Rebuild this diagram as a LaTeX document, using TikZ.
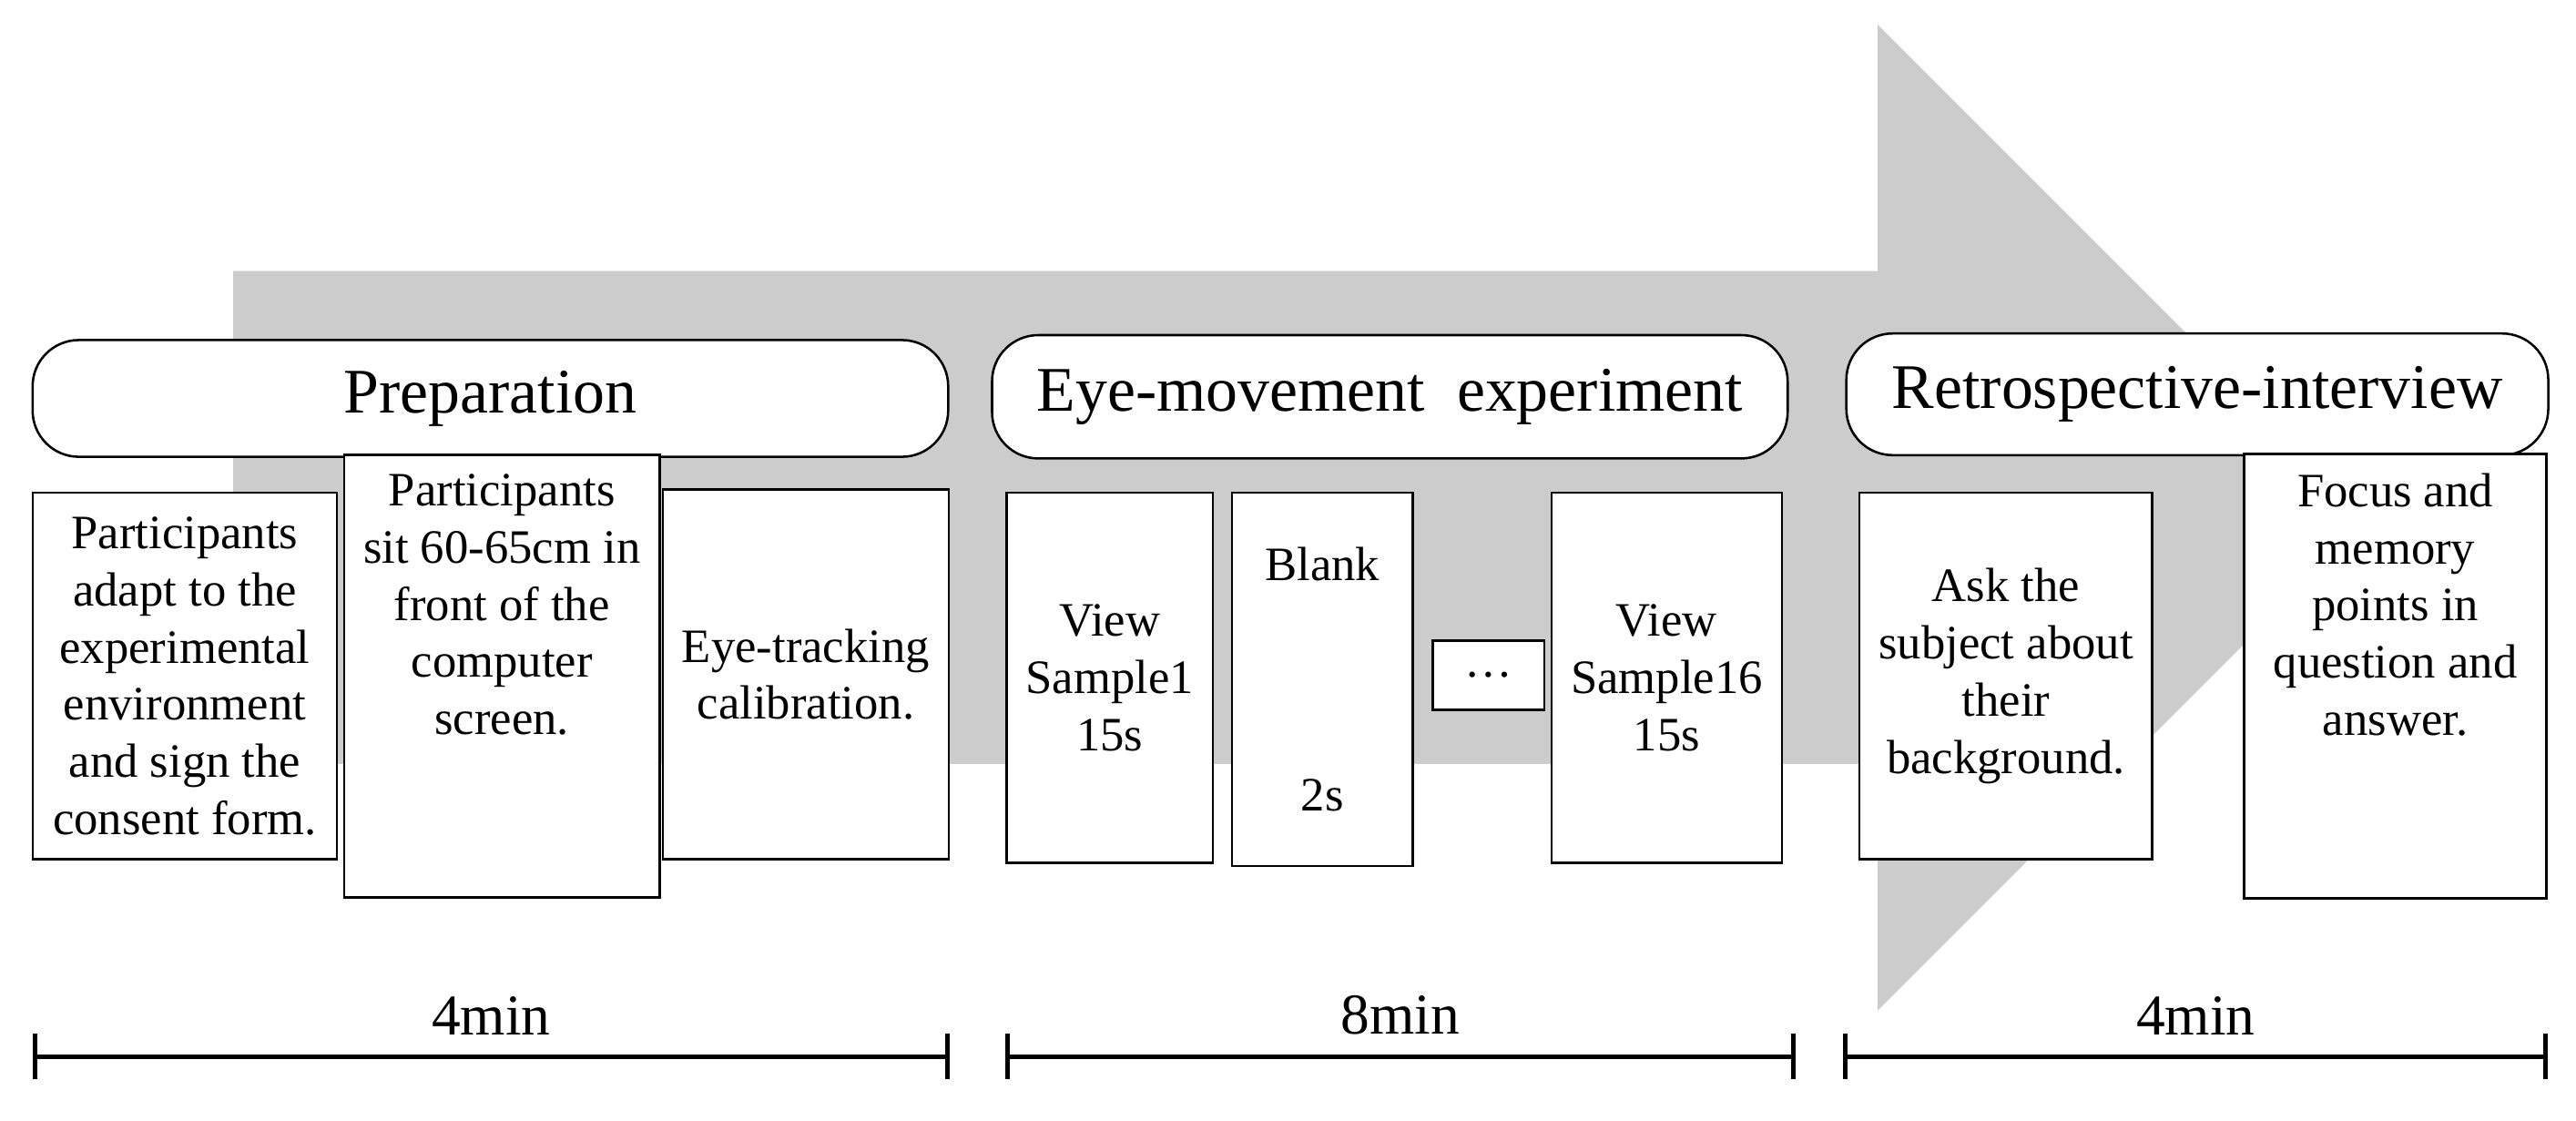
\documentclass[tikz,border=0pt]{standalone}
\usepackage{fontspec}
\setmainfont{Liberation Serif}
\usetikzlibrary{arrows.meta}

\begin{document}
\begin{tikzpicture}[x=0.01cm,y=-0.01cm,
  phase/.style={draw,rounded corners=8pt,fill=white,font=\fontsize{11}{13}\selectfont},
  task/.style={draw,fill=white,align=center,font=\fontsize{8.3}{9.9}\selectfont},
  span/.style={thick,{|[width=8pt]}-{|[width=8pt]}}]
\useasboundingbox (0,0) rectangle (1568,682);

% Background arrow
\fill[gray!40] (142,165) -- (1143,165) -- (1143,15) -- (1443,315) -- (1143,615) -- (1143,465) -- (142,465) -- cycle;

% Phases
\node[phase,minimum width=5.57cm,minimum height=0.71cm] (prep) at (298.5,242.5) {Preparation};
\node[phase,minimum width=4.84cm,minimum height=0.75cm] (eye) at (846,241.5) {Eye-movement\ \ experiment};
\node[phase,minimum width=4.27cm,minimum height=0.74cm] (retro) at (1337.5,240) {Retrospective-interview};

% Tasks
\node[task,minimum width=1.85cm,minimum height=2.23cm] (adapt) at (112.5,411.5) {Participants\\adapt to the\\experimental\\environment\\and sign the\\consent form.};
\node[task,minimum width=1.85cm,minimum height=2.23cm] (sit) at (305.5,411.5) {Participants\\sit 60-65cm in\\front of the\\computer\\screen.\\[1.8em]};
\node[task,minimum width=1.69cm,minimum height=2.25cm] (calib) at (490.5,410.5) {Eye-tracking\\calibration.};
\node[task,minimum width=1.25cm,minimum height=2.25cm] (view1) at (675.5,412.5) {View\\Sample1\\15s};
\node[task,minimum width=1.10cm,minimum height=2.27cm] (blank) at (805,413.5) {Blank\\[3.6em]2s};
\node[task,minimum width=0.68cm,minimum height=0.42cm] (dots) at (906,411) {\dots};
\node[task,minimum width=1.33cm,minimum height=2.25cm] (view16) at (1014.5,412.5) {View\\Sample16\\15s};
\node[task,minimum width=1.74cm,minimum height=2.23cm] (ask) at (1221,411.5) {Ask the\\subject about\\their\\background.};
\node[task,minimum width=1.84cm,minimum height=2.23cm] (focus) at (1458,411.5) {Focus and\\memory\\points in\\question and\\answer.\\[1.8em]};

% Durations
\draw[span] (20,643) -- node[above,font=\fontsize{10}{12}\selectfont] (t1) {4min} (578,643);
\draw[span] (612,643) -- node[above,font=\fontsize{10}{12}\selectfont] (t2) {8min} (1093,643);
\draw[span] (1122,643) -- node[above,font=\fontsize{10}{12}\selectfont] (t3) {4min} (1551,643);
\end{tikzpicture}
\end{document}
